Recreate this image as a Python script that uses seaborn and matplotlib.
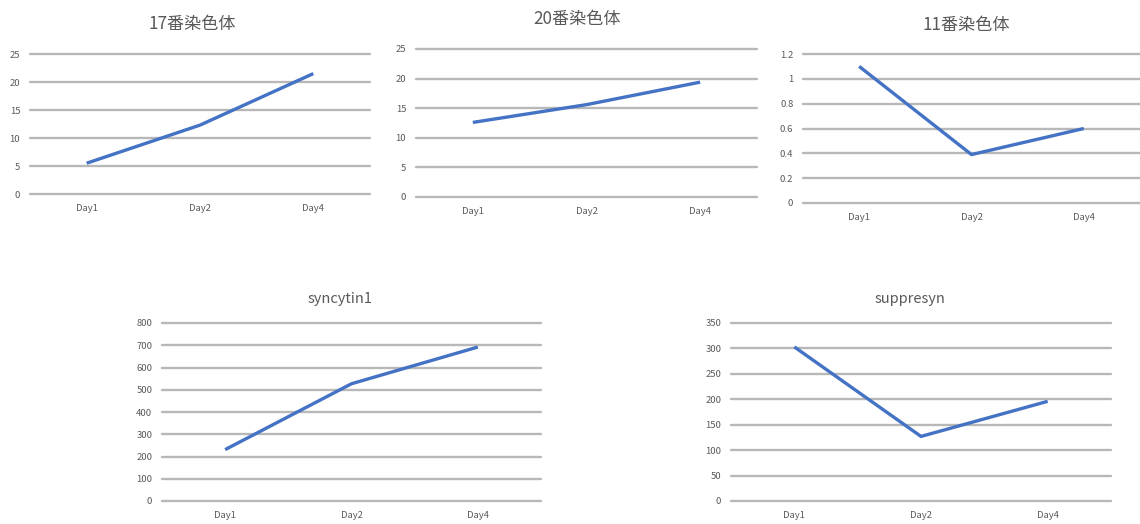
import matplotlib
matplotlib.use("Agg")
import matplotlib.pyplot as plt
import seaborn as sns
import pandas as pd
import numpy as np

sns.set_theme(style="white")
plt.rcParams['font.family'] = ['Noto Sans CJK SC', 'DejaVu Sans']

days = ["Day1", "Day2", "Day4"]

chr17 = [5.5, 12.3, 21.5]
chr20 = [12.6, 15.6, 19.4]
chr11 = [1.10, 0.39, 0.60]
syncytin1 = [231, 527, 692]
suppresyn = [303, 127, 196]

titles = ["17番染色体", "20番染色体", "11番染色体", "syncytin1", "suppresyn"]
title_sizes = [12.3, 12.3, 12.3, 10.5, 10.5]
series = [chr17, chr20, chr11, syncytin1, suppresyn]
y_ticks = [
    np.arange(0, 26, 5),
    np.arange(0, 26, 5),
    np.round(np.arange(0, 1.21, 0.2), 1),
    np.arange(0, 801, 100),
    np.arange(0, 351, 50),
]

W, H = 1140, 524
# panel boxes in pixels: left, right, top gridline, baseline; title centre
boxes = [
    (30, 370, 54, 194, 192, 24),
    (416, 757, 49, 197, 577, 19),
    (803, 1140, 54, 203, 966, 25),
    (162, 541, 323, 501, 340, 299),
    (731, 1111, 323, 501, 910, 299),
]

LINE = "#4472C4"
GRID = "#b8b8b8"
TEXT = "#595959"

fig = plt.figure(figsize=(W / 100, H / 100), dpi=100)
fig.patch.set_facecolor("white")


def fmt(v):
    if float(v).is_integer():
        return str(int(v))
    return f"{v:g}"


for title, tsize, vals, ticks, (x0, x1, yt, yb, tx, ty) in zip(
        titles, title_sizes, series, y_ticks, boxes):
    ax = fig.add_axes([x0 / W, 1 - yb / H, (x1 - x0) / W, (yb - yt) / H])
    df = pd.DataFrame({"day": days, "value": vals})
    sns.lineplot(data=df, x="day", y="value", ax=ax, color=LINE,
                 linewidth=2.4, sort=False, solid_capstyle="butt")
    ax.set_xlim(-0.5, 2.5)
    ax.set_ylim(ticks[0], ticks[-1])
    ax.set_yticks(ticks)
    ax.set_yticklabels([fmt(t) for t in ticks])
    ax.set_xlabel("")
    ax.set_ylabel("")
    for s in ax.spines.values():
        s.set_visible(False)
    ax.yaxis.grid(True, color=GRID, linewidth=1.7)
    ax.xaxis.grid(False)
    ax.set_axisbelow(True)
    for gl in ax.get_ygridlines():
        gl.set_clip_on(False)
    ax.tick_params(axis="y", length=0, pad=7, labelsize=6.8, labelcolor=TEXT)
    ax.tick_params(axis="x", length=0, pad=7, labelsize=6.8, labelcolor=TEXT)
    ax.set_facecolor("none")
    fig.text(tx / W, 1 - ty / H, title, ha="center", va="center",
             fontsize=tsize, color=TEXT)

fig.savefig("out.png", dpi=100, facecolor="white")
